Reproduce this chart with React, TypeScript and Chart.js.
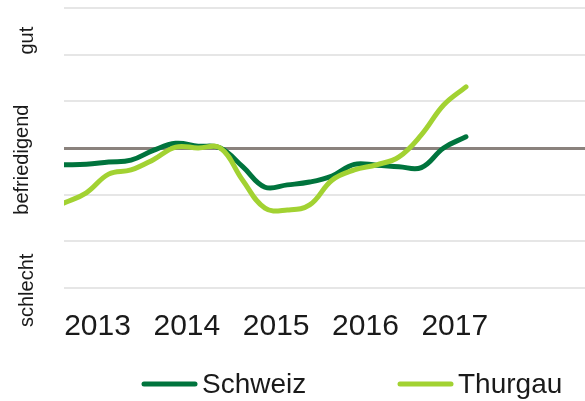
import React, { useEffect, useRef } from "react";
import { Chart, registerables } from "chart.js";

Chart.register(...registerables);

const quarters = [
  "2013 Q1", "2013 Q2", "2013 Q3", "2013 Q4",
  "2014 Q1", "2014 Q2", "2014 Q3", "2014 Q4",
  "2015 Q1", "2015 Q2", "2015 Q3", "2015 Q4",
  "2016 Q1", "2016 Q2", "2016 Q3", "2016 Q4",
  "2017 Q1", "2017 Q2", "2017 Q3",
];
const schweiz = [-0.36, -0.35, -0.3, -0.26, -0.05, 0.1, 0.04, 0.0, -0.4, -0.84, -0.79, -0.73, -0.6, -0.35, -0.37, -0.4, -0.42, 0.0, 0.24];
const thurgau = [-1.18, -0.96, -0.56, -0.47, -0.25, 0.02, 0.0, 0.0, -0.69, -1.29, -1.33, -1.22, -0.69, -0.47, -0.36, -0.19, 0.28, 0.92, 1.31];
const yearLabels = ["2013", "2014", "2015", "2016", "2017"];
const yearTickPositions = [1.5, 5.5, 9.5, 13.5, 17.5];
const ratingLabels = ["gut", "befriedigend", "schlecht"];
const ratingCenters = [2.3, -0.25, -3.05];

const DARK = "#00743d";
const LIGHT = "#a2d232";
const FONT = "'Liberation Sans', Arial, sans-serif";

const sidePlugin = {
  id: "sideLabels",
  afterDraw(chart: any) {
    const ctx = chart.ctx;
    const y = chart.scales.y;
    ctx.save();
    ctx.fillStyle = "#1a1a1a";
    ctx.font = `20px ${FONT}`;
    ctx.textAlign = "center";
    ctx.textBaseline = "alphabetic";
    ratingLabels.forEach((lab, i) => {
      const py = y.getPixelForValue(ratingCenters[i]);
      const bx = lab === "befriedigend" ? 28 : 33;
      ctx.save();
      ctx.translate(bx, py);
      ctx.rotate(-Math.PI / 2);
      ctx.fillText(lab, 0, 0);
      ctx.restore();
    });
    // legend
    const items = chart.data.datasets.map((d: any, i: number) => ({
      label: d.label,
      color: d.borderColor,
      x: i === 0 ? 144 : 400,
    }));
    ctx.font = `28px ${FONT}`;
    ctx.textAlign = "left";
    items.forEach((it: any) => {
      ctx.strokeStyle = it.color;
      ctx.lineWidth = 5;
      ctx.lineCap = "round";
      ctx.beginPath();
      ctx.moveTo(it.x, 384);
      ctx.lineTo(it.x + 51, 384);
      ctx.stroke();
      ctx.fillStyle = "#1a1a1a";
      ctx.fillText(it.label, it.x + 58, 393);
    });
    ctx.restore();
  },
};

export default function App() {
  const ref = useRef<HTMLCanvasElement>(null);
  useEffect(() => {
    if (!ref.current) return;
    const chart = new Chart(ref.current, {
      type: "line",
      data: {
        datasets: [
          {
            label: "Schweiz",
            data: schweiz.map((v, i) => ({ x: i, y: v })),
            borderColor: DARK,
            backgroundColor: DARK,
            borderWidth: 5,
            tension: 0.4,
            pointRadius: 0,
            borderCapStyle: "round",
            order: 1,
          },
          {
            label: "Thurgau",
            data: thurgau.map((v, i) => ({ x: i, y: v })),
            borderColor: LIGHT,
            backgroundColor: LIGHT,
            borderWidth: 5,
            tension: 0.4,
            pointRadius: 0,
            borderCapStyle: "round",
            order: 0,
          },
        ],
      },
      options: {
        animation: false,
        responsive: false,
        layout: { padding: { top: 8, left: 64, right: 0, bottom: 0 } },
        plugins: { legend: { display: false }, tooltip: { enabled: false } },
        scales: {
          x: {
            type: "linear",
            min: 0,
            max: 23.33,
            grid: { display: false, drawTicks: false },
            border: { display: false },
            afterBuildTicks: (scale: any) => {
              scale.ticks = yearTickPositions.map((v) => ({ value: v }));
            },
            afterFit: (scale: any) => {
              scale.height = 113;
            },
            ticks: {
              autoSkip: false,
              maxRotation: 0,
              padding: 21,
              color: "#1a1a1a",
              font: { family: FONT, size: 30 },
              callback: (_v: any, i: number) => yearLabels[i],
            },
          },
          y: {
            min: -3,
            max: 3,
            ticks: { display: false, stepSize: 1 },
            border: { display: false },
            grid: {
              drawTicks: false,
              color: (c: any) => (c.tick && c.tick.value === 0 ? "#8a827d" : "#e6e6e6"),
              lineWidth: (c: any) => (c.tick && c.tick.value === 0 ? 3 : 2),
            },
          },
        },
      },
      plugins: [sidePlugin],
    });
    return () => chart.destroy();
  }, []);
  return (
    <div style={{ position: "fixed", left: 0, top: 0, width: 585, height: 401, background: "#fff" }}>
      <canvas ref={ref} width={585} height={401} />
    </div>
  );
}
